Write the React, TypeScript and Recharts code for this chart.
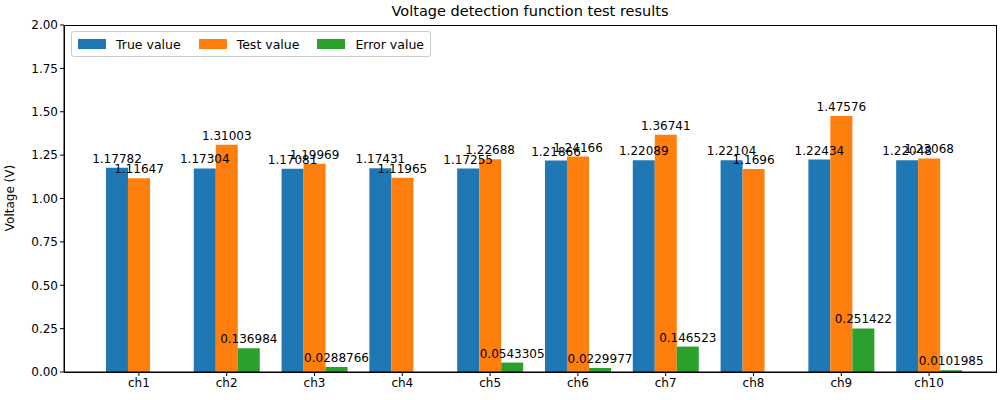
import React from "react";
import { BarChart, Bar, XAxis, YAxis, LabelList } from "recharts";

const categories = ["ch1","ch2","ch3","ch4","ch5","ch6","ch7","ch8","ch9","ch10"];
const trueValues = [1.17782,1.17304,1.17081,1.17431,1.17255,1.21866,1.22089,1.22104,1.22434,1.22048];
const testValues = [1.11647,1.31003,1.19969,1.11965,1.22688,1.24166,1.36741,1.1696,1.47576,1.23068];
const errorValues = [0,0.136984,0.0288766,0,0.0543305,0.0229977,0.146523,0,0.251422,0.0101985];
const yTicks = [0,0.25,0.5,0.75,1,1.25,1.5,1.75,2];

const data = categories.map((c, i) => ({ name: c, t: trueValues[i], v: testValues[i], e: errorValues[i] }));
const font = "DejaVu Sans, sans-serif";
const lbl = { fill: "#000", fontSize: 12, fontFamily: font };
const fmt = (v: any) => (v === 0 ? "" : String(v));

const legendItems = [["True value", "#1f77b4"], ["Test value", "#ff7f0e"], ["Error value", "#2ca02c"]];

export default function App() {
  return (
    <div style={{ position: "absolute", left: 0, top: 0, width: 1000, height: 400, fontFamily: font, background: "#fff" }}>
      <BarChart width={1000} height={400} data={data} margin={{ top: 25, right: 4, left: 10, bottom: 8 }} barGap={0} barCategoryGap="12.5%">
        <XAxis dataKey="name" padding={{ left: 31, right: 23 }} stroke="#000" tickSize={4} height={20}
          tick={{ fill: "#000", fontSize: 12, fontFamily: font }} />
        <YAxis domain={[0, 2]} ticks={yTicks} width={54} stroke="#000" tickSize={4}
          tickFormatter={(v: number) => v.toFixed(2)} tick={{ fill: "#000", fontSize: 12, fontFamily: font }} />
        <Bar dataKey="t" fill="#1f77b4" isAnimationActive={false}>
          <LabelList dataKey="t" position="top" offset={5} style={lbl} />
        </Bar>
        <Bar dataKey="v" fill="#ff7f0e" isAnimationActive={false}>
          <LabelList dataKey="v" position="top" offset={5} style={lbl} />
        </Bar>
        <Bar dataKey="e" fill="#2ca02c" isAnimationActive={false}>
          <LabelList dataKey="e" position="top" offset={5} style={lbl} formatter={fmt} />
        </Bar>
      </BarChart>
      <div style={{ position: "absolute", left: 0, width: 1060, top: 3, textAlign: "center", fontSize: 14.5, color: "#000" }}>
        Voltage detection function test results
      </div>
      <div style={{ position: "absolute", left: 3, top: 198, transform: "translateY(-50%) rotate(-90deg)", transformOrigin: "center", fontSize: 12, whiteSpace: "nowrap", width: 14, display: "flex", justifyContent: "center" }}>
        <span>Voltage (V)</span>
      </div>
      <div style={{ position: "absolute", left: 64, top: 25, width: 931, height: 346, border: "1px solid #000", pointerEvents: "none" }} />
      <div style={{ position: "absolute", left: 71, top: 31, height: 24, border: "1px solid #ccc", borderRadius: 3, background: "#fff", display: "flex", alignItems: "center", padding: "0 6px", fontSize: 12.5 }}>
        {legendItems.map(([n, c], i) => (
          <div key={n} style={{ display: "flex", alignItems: "center", marginRight: i === 2 ? 0 : 18 }}>
            <div style={{ width: 28, height: 10, background: c, marginRight: 10 }} />
            <span>{n}</span>
          </div>
        ))}
      </div>
    </div>
  );
}
